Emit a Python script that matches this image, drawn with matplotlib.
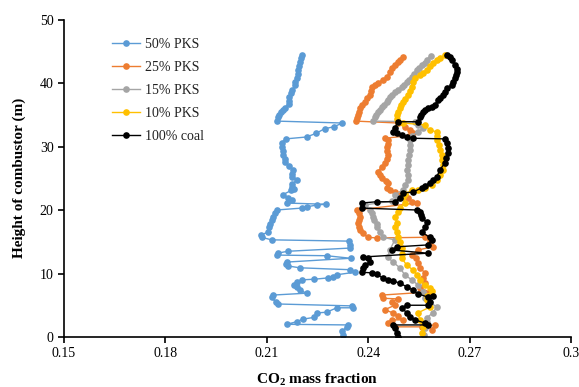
import matplotlib
matplotlib.use('Agg')
import matplotlib.pyplot as plt

plt.rcParams['font.family'] = 'Liberation Serif'
plt.rcParams['mathtext.fontset'] = 'custom'
plt.rcParams['mathtext.rm'] = 'Liberation Serif'
plt.rcParams['mathtext.bf'] = 'Liberation Serif:bold'

# CO2 mass fraction (x) and height (y) for each case
pks50_x = [0.2203, 0.2200, 0.2197, 0.2194, 0.2191, 0.2191, 0.2188, 0.2185, 0.2185, 0.2176,
           0.2173, 0.2167, 0.2167, 0.2165, 0.2153, 0.2147, 0.2141, 0.2135, 0.2132, 0.2129,
           0.2324, 0.2298, 0.2271, 0.2247, 0.2218, 0.2156, 0.2144, 0.2144, 0.2147, 0.2147,
           0.2153, 0.2153, 0.2167, 0.2179, 0.2176, 0.2176, 0.2188, 0.2176, 0.2176, 0.2182,
           0.2173, 0.2147, 0.2162, 0.2176, 0.2159, 0.2274, 0.2250, 0.2218, 0.2203, 0.2129,
           0.2123, 0.2117, 0.2114, 0.2111, 0.2108, 0.2105, 0.2082, 0.2085, 0.2114, 0.2342,
           0.2345, 0.2345, 0.2162, 0.2132, 0.2129, 0.2277, 0.2348, 0.2159, 0.2156, 0.2162,
           0.2197, 0.2345, 0.2360, 0.2307, 0.2295, 0.2280, 0.2241, 0.2203, 0.2188, 0.2182,
           0.2188, 0.2197, 0.2218, 0.2117, 0.2114, 0.2126, 0.2132, 0.2351, 0.2354, 0.2307,
           0.2277, 0.2250, 0.2241, 0.2206, 0.2188, 0.2159, 0.2339, 0.2336, 0.2324, 0.2327]
pks50_y = [44.4, 43.9, 43.3, 42.7, 42.0, 41.4, 40.8, 40.2, 39.7, 38.9,
           38.4, 37.8, 37.2, 36.7, 36.1, 35.7, 35.4, 35.0, 34.6, 34.0,
           33.7, 33.1, 32.8, 32.1, 31.5, 31.2, 30.6, 29.9, 29.3, 28.7,
           28.0, 27.6, 26.9, 26.3, 25.7, 25.2, 24.7, 24.1, 23.6, 23.3,
           23.1, 22.4, 21.9, 21.6, 21.1, 20.9, 20.8, 20.5, 20.3, 20.0,
           19.5, 18.9, 18.4, 17.8, 17.3, 16.5, 16.1, 15.7, 15.3, 15.1,
           14.5, 14.0, 13.5, 13.2, 12.9, 12.8, 12.4, 11.8, 11.5, 11.2,
           10.9, 10.6, 10.2, 9.8, 9.4, 9.3, 9.1, 9.0, 8.7, 8.2,
           7.9, 7.4, 6.9, 6.6, 6.3, 5.5, 5.2, 4.9, 4.6, 4.6,
           3.9, 3.8, 3.1, 2.8, 2.4, 2.0, 1.9, 1.6, 0.9, 0.3]

pks25_x = [0.2503, 0.2494, 0.2488, 0.2479, 0.2470, 0.2464, 0.2455, 0.2443, 0.2428, 0.2419,
           0.2411, 0.2408, 0.2405, 0.2396, 0.2390, 0.2381, 0.2375, 0.2372, 0.2369, 0.2366,
           0.2363, 0.2488, 0.2508, 0.2523, 0.2532, 0.2520, 0.2449, 0.2458, 0.2458, 0.2455,
           0.2455, 0.2458, 0.2455, 0.2449, 0.2440, 0.2428, 0.2434, 0.2440, 0.2452, 0.2458,
           0.2455, 0.2464, 0.2479, 0.2494, 0.2508, 0.2517, 0.2529, 0.2544, 0.2366, 0.2372,
           0.2375, 0.2372, 0.2369, 0.2372, 0.2375, 0.2384, 0.2399, 0.2425, 0.2568, 0.2582,
           0.2591, 0.2547, 0.2529, 0.2541, 0.2547, 0.2553, 0.2568, 0.2562, 0.2568, 0.2553,
           0.2582, 0.2440, 0.2443, 0.2488, 0.2470, 0.2479, 0.2449, 0.2473, 0.2488, 0.2503,
           0.2470, 0.2458, 0.2479, 0.2559, 0.2597, 0.2588]
pks25_y = [44.1, 43.6, 43.3, 42.8, 42.4, 41.7, 40.9, 40.5, 40.0, 39.7,
           39.4, 38.7, 38.1, 37.6, 37.0, 36.5, 36.1, 35.4, 35.0, 34.5,
           34.0, 33.7, 33.1, 32.6, 32.1, 31.7, 31.3, 31.0, 30.4, 29.9,
           29.3, 28.7, 28.0, 27.4, 26.8, 26.0, 25.5, 25.0, 24.6, 24.3,
           23.5, 23.1, 22.8, 22.5, 22.4, 21.9, 21.3, 21.1, 20.0, 19.5,
           18.9, 18.4, 18.0, 17.3, 16.9, 16.3, 15.7, 15.6, 15.7, 15.0,
           14.2, 13.7, 12.9, 12.4, 11.7, 10.9, 10.1, 9.3, 8.5, 7.7,
           7.1, 6.6, 6.1, 6.0, 5.5, 5.0, 4.3, 3.8, 3.3, 2.7,
           2.7, 2.2, 1.6, 1.6, 1.9, 1.1]

pks15_x = [0.2585, 0.2573, 0.2568, 0.2559, 0.2550, 0.2544, 0.2535, 0.2529, 0.2520, 0.2514,
           0.2505, 0.2500, 0.2488, 0.2479, 0.2470, 0.2464, 0.2458, 0.2455, 0.2446, 0.2440,
           0.2434, 0.2428, 0.2422, 0.2419, 0.2414, 0.2538, 0.2547, 0.2562, 0.2547, 0.2529,
           0.2523, 0.2523, 0.2523, 0.2520, 0.2517, 0.2517, 0.2514, 0.2517, 0.2517, 0.2508,
           0.2503, 0.2479, 0.2488, 0.2470, 0.2390, 0.2405, 0.2411, 0.2414, 0.2417, 0.2425,
           0.2425, 0.2434, 0.2443, 0.2479, 0.2464, 0.2458, 0.2473, 0.2494, 0.2508, 0.2529,
           0.2547, 0.2562, 0.2568, 0.2603, 0.2591, 0.2573, 0.2573, 0.2568, 0.2565]
pks15_y = [44.3, 43.6, 43.1, 42.8, 42.4, 42.0, 41.4, 40.9, 40.5, 40.2,
           39.7, 39.4, 38.9, 38.6, 38.1, 37.8, 37.3, 37.0, 36.5, 36.2,
           35.7, 35.4, 35.0, 34.6, 34.0, 33.9, 33.4, 32.9, 32.3, 31.7,
           31.0, 30.2, 29.4, 28.7, 27.9, 27.1, 26.3, 25.5, 24.7, 23.9,
           23.1, 22.4, 21.9, 21.4, 20.8, 20.0, 19.5, 18.9, 18.4, 17.8,
           17.3, 16.5, 15.7, 15.3, 13.7, 12.6, 11.8, 10.9, 9.8, 9.0,
           8.2, 7.1, 6.1, 4.7, 3.8, 3.0, 2.4, 1.4, 0.3]

pks10_x = [0.2627, 0.2612, 0.2603, 0.2591, 0.2582, 0.2573, 0.2562, 0.2553, 0.2538, 0.2532,
           0.2529, 0.2523, 0.2517, 0.2508, 0.2503, 0.2497, 0.2494, 0.2488, 0.2485, 0.2485,
           0.2488, 0.2503, 0.2568, 0.2582, 0.2603, 0.2603, 0.2603, 0.2609, 0.2612, 0.2618,
           0.2618, 0.2621, 0.2621, 0.2612, 0.2603, 0.2588, 0.2568, 0.2547, 0.2529, 0.2508,
           0.2503, 0.2508, 0.2494, 0.2488, 0.2479, 0.2485, 0.2479, 0.2485, 0.2488, 0.2494,
           0.2500, 0.2500, 0.2500, 0.2514, 0.2532, 0.2544, 0.2553, 0.2568, 0.2582, 0.2588,
           0.2573, 0.2573, 0.2582, 0.2547, 0.2553, 0.2562, 0.2559]
pks10_y = [44.4, 43.9, 43.6, 43.1, 42.7, 42.0, 41.6, 41.3, 40.8, 40.2,
           39.4, 38.7, 38.1, 37.5, 37.0, 36.5, 36.1, 35.4, 35.0, 34.3,
           33.9, 33.7, 33.4, 32.6, 32.3, 31.7, 31.0, 30.2, 29.4, 28.7,
           27.9, 27.1, 26.3, 25.5, 24.7, 23.9, 23.5, 23.1, 23.1, 22.5,
           22.0, 21.1, 20.3, 19.7, 18.9, 18.0, 17.3, 16.5, 15.7, 15.0,
           14.0, 13.1, 12.4, 11.3, 10.6, 9.8, 9.0, 8.2, 7.7, 7.2,
           6.5, 5.8, 4.7, 3.8, 2.7, 1.6, 0.6]

coal_x = [0.2633, 0.2642, 0.2648, 0.2656, 0.2662, 0.2662, 0.2659, 0.2656, 0.2651, 0.2648,
          0.2633, 0.2627, 0.2621, 0.2612, 0.2606, 0.2597, 0.2588, 0.2576, 0.2568, 0.2562,
          0.2556, 0.2553, 0.2547, 0.2488, 0.2479, 0.2473, 0.2485, 0.2500, 0.2514, 0.2532,
          0.2627, 0.2633, 0.2636, 0.2636, 0.2630, 0.2627, 0.2612, 0.2603, 0.2591, 0.2582,
          0.2568, 0.2559, 0.2532, 0.2503, 0.2494, 0.2479, 0.2425, 0.2381, 0.2381, 0.2544,
          0.2553, 0.2556, 0.2559, 0.2573, 0.2568, 0.2559, 0.2582, 0.2588, 0.2576, 0.2485,
          0.2470, 0.2576, 0.2384, 0.2399, 0.2405, 0.2390, 0.2384, 0.2381, 0.2411, 0.2425,
          0.2443, 0.2458, 0.2473, 0.2494, 0.2514, 0.2532, 0.2547, 0.2576, 0.2591, 0.2582,
          0.2576, 0.2514, 0.2500, 0.2514, 0.2523, 0.2538, 0.2568, 0.2576, 0.2473, 0.2479,
          0.2485, 0.2488]
coal_y = [44.4, 44.1, 43.6, 42.8, 42.2, 41.7, 41.3, 40.8, 40.2, 39.7,
          39.2, 38.6, 38.1, 37.6, 37.3, 36.5, 36.2, 36.1, 35.7, 35.4,
          35.0, 34.6, 33.9, 33.9, 32.9, 32.3, 32.1, 31.8, 31.5, 31.3,
          31.2, 30.6, 29.8, 29.0, 28.2, 27.4, 26.3, 25.2, 24.7, 24.3,
          23.8, 23.5, 22.8, 22.7, 21.9, 21.3, 21.3, 21.1, 20.3, 20.0,
          19.7, 19.2, 18.7, 18.1, 17.3, 16.5, 15.7, 15.3, 14.5, 14.2,
          13.7, 13.2, 12.6, 12.4, 11.8, 11.3, 10.9, 10.2, 10.1, 9.9,
          9.3, 9.0, 8.8, 8.5, 7.9, 7.4, 6.8, 6.3, 6.5, 5.5,
          5.0, 5.0, 4.6, 3.8, 3.1, 2.7, 2.2, 1.9, 1.9, 1.4,
          0.6, 0.0]

series = [
    ('50% PKS', pks50_x, pks50_y, '#5B9BD5'),
    ('25% PKS', pks25_x, pks25_y, '#ED7D31'),
    ('15% PKS', pks15_x, pks15_y, '#A5A5A5'),
    ('10% PKS', pks10_x, pks10_y, '#FFC000'),
    ('100% coal', coal_x, coal_y, '#000000'),
]

x_ticks = [0.15, 0.18, 0.21, 0.24, 0.27, 0.3]
x_tick_labels = ['0.15', '0.18', '0.21', '0.24', '0.27', '0.3']
y_ticks = [0, 10, 20, 30, 40, 50]

fig = plt.figure(figsize=(5.79, 3.87), dpi=100)
ax = fig.add_axes([0.1105, 0.1292, 0.8756, 0.8204])

for name, xs, ys, col in series:
    ax.plot(xs, ys, '-', color=col, linewidth=1.0, marker='o', markersize=4.8,
            markeredgewidth=0, label=name)

ax.set_xlim(0.15, 0.3)
ax.set_ylim(0, 50)
ax.set_xticks(x_ticks)
ax.set_xticklabels(x_tick_labels)
ax.set_yticks(y_ticks)
ax.tick_params(direction='out', length=4, width=1.2, labelsize=10, colors='#000000')
ax.spines['top'].set_visible(False)
ax.spines['right'].set_visible(False)
ax.spines['left'].set_linewidth(1.2)
ax.spines['bottom'].set_linewidth(1.2)

ax.set_xlabel(r'CO$_\mathbf{2}$ mass fraction', fontsize=11, fontweight='bold', labelpad=8)
ax.set_ylabel('Height of combustor (m)', fontsize=11, fontweight='bold', labelpad=10)

leg = ax.legend(loc='upper left', bbox_to_anchor=(0.07, 0.98), frameon=False,
                fontsize=10, handlelength=2.0, handletextpad=0.4, labelspacing=0.72)
for t in leg.get_texts():
    t.set_color('#222222')

fig.savefig('out.png', dpi=100)
